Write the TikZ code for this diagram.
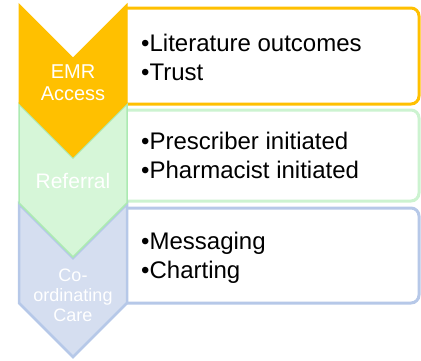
\documentclass[tikz,border=0pt]{standalone}
\usepackage{fontspec}
\setmainfont{Liberation Sans}
\usepackage{tikz}
\usetikzlibrary{positioning}
\definecolor{emrstep}{RGB}{255,192,0}
\definecolor{refstepfill}{RGB}{214,246,216}
\definecolor{refstepline}{RGB}{172,234,178}
\definecolor{refboxline}{RGB}{204,243,208}
\definecolor{carestepfill}{RGB}{213,222,240}
\definecolor{carestepline}{RGB}{182,200,232}
\tikzstyle{chevlabel}=[text=white, align=center, inner sep=0pt, anchor=base]
\tikzstyle{itemlist}=[align=left, anchor=base west, inner sep=0pt, font=\fontsize{24}{29}\selectfont]
\tikzstyle{listbox}=[rounded corners=8pt, fill=white, line width=3pt]
% chevron: top edge y, colour options
\newcommand{\chevstep}[2]{
	\filldraw[#2] (19,#1) -- (73,#1+54) -- (127,#1) -- (127,#1+99)
		-- (73,#1+153) -- (19,#1+99) -- cycle;}
% list box, open on the left (hidden by the chevron): top y, bottom y, line colour
\newcommand{\itembox}[3]{
	\filldraw[listbox, draw=#3] (124,#1) -- (419,#1) -- (419,#2) -- (124,#2);}

\begin{document}
\begin{tikzpicture}[x=1pt, y=-1pt]
	\useasboundingbox (0,0) rectangle (421,360);

	\itembox{8}{104}{emrstep}
	\itembox{110}{201}{refboxline}
	\itembox{208}{303}{carestepline}

	\chevstep{204}{fill=carestepfill, draw=carestepline, line width=2.5pt}
	\chevstep{104}{fill=refstepfill, draw=refstepline, line width=1.5pt}
	\chevstep{4}{fill=emrstep, draw=emrstep, line width=1pt}

	% multi-line nodes sit on the baseline of their last line
	\node[chevlabel, font=\fontsize{20}{22}\selectfont] (emr) at (73,100) {EMR\\Access};
	\node[chevlabel, font=\fontsize{21}{23}\selectfont] (ref) at (73,188) {Referral};
	\node[chevlabel, font=\fontsize{18}{20}\selectfont] (care) at (73,321) {Co-\\ordinating\\Care};

	\node[itemlist] (emrlist) at (141,80) {\textbullet Literature outcomes\\\textbullet Trust};
	\node[itemlist] (reflist) at (141,178) {\textbullet Prescriber initiated\\\textbullet Pharmacist initiated};
	\node[itemlist] (carelist) at (141,278) {\textbullet Messaging\\\textbullet Charting};
\end{tikzpicture}
\end{document}
